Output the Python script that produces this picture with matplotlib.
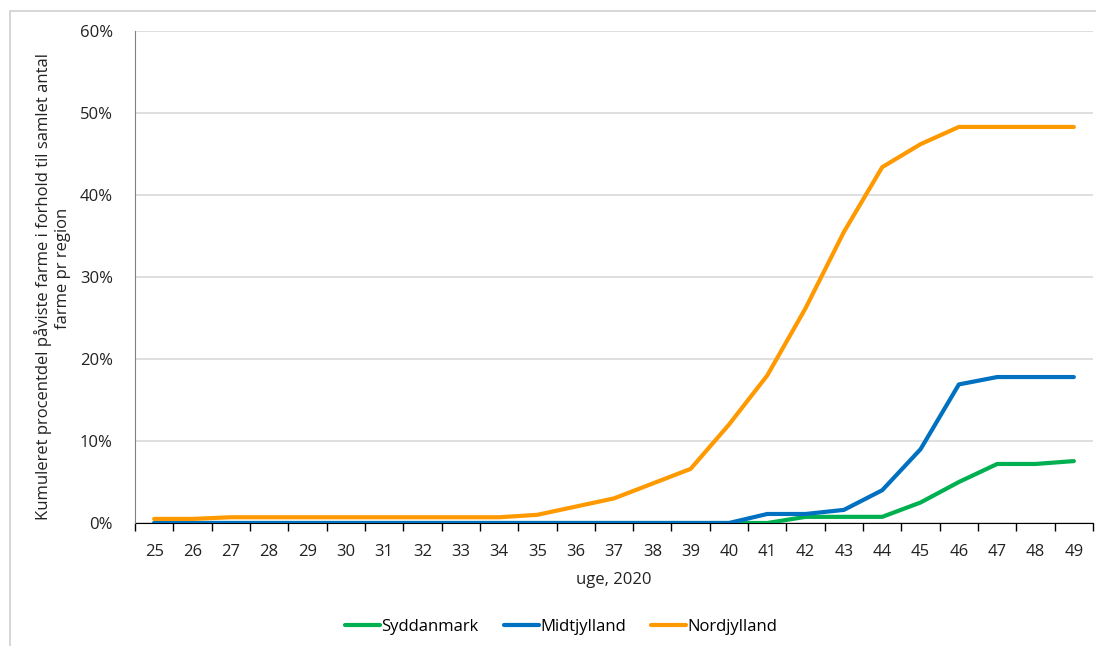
import matplotlib.pyplot as plt
from matplotlib.patches import Rectangle
from matplotlib.ticker import FuncFormatter, MultipleLocator

plt.rcParams['font.family'] = ['Open Sans', 'DejaVu Sans']

# Data (cumulative share of farms per region, %)
weeks = list(range(25, 50))
syddanmark = [0, 0, 0, 0, 0, 0, 0, 0, 0, 0, 0, 0, 0, 0, 0, 0, 0,
              0.75, 0.75, 0.75, 2.5, 5.0, 7.2, 7.2, 7.55]
midtjylland = [0, 0, 0, 0, 0, 0, 0, 0, 0, 0, 0, 0, 0, 0, 0, 0,
               1.1, 1.1, 1.6, 4.0, 9.0, 16.9, 17.8, 17.8, 17.8]
nordjylland = [0.5, 0.5, 0.7, 0.7, 0.7, 0.7, 0.7, 0.7, 0.7, 0.7, 1.0, 2.0, 3.0,
               4.8, 6.6, 12.0, 18.0, 26.2, 35.5, 43.4, 46.2, 48.3, 48.3, 48.3, 48.3]

series = [("Syddanmark", syddanmark, "#00B050"),
          ("Midtjylland", midtjylland, "#0070C0"),
          ("Nordjylland", nordjylland, "#FF9900")]

ylabel_lines = ["Kumuleret procentdel påviste farme i forhold til samlet antal",
                "farme pr region"]

fig = plt.figure(figsize=(10.96, 6.46), dpi=100)
ax = fig.add_axes([135 / 1096, 1 - 523 / 646, 958 / 1096, 492 / 646])

# light chart border like the spreadsheet frame
fig.patches.append(Rectangle((10 / 1096, -0.01), 1.0, 1 - 11 / 646 + 0.01,
                             transform=fig.transFigure, fill=False,
                             edgecolor="#D0D0D0", linewidth=1.2))

x = list(range(len(weeks)))
for name, vals, col in series:
    ax.plot(x, vals, color=col, linewidth=3, label=name, solid_capstyle="round")

ax.set_xlim(-0.5, len(weeks) - 0.5)
ax.set_ylim(0, 60)
ax.yaxis.set_major_locator(MultipleLocator(10))
ax.yaxis.set_major_formatter(FuncFormatter(lambda v, p: f"{v:.0f}%"))
ax.grid(axis="y", color="#D9D9D9", linewidth=1.2)
ax.set_axisbelow(True)

ax.set_xticks(x)
ax.set_xticklabels([str(w) for w in weeks])
ax.set_xticks([i - 0.5 for i in range(len(weeks) + 1)], minor=True)
ax.tick_params(axis="x", which="major", length=0, pad=15, labelsize=12, colors="#222222")
ax.tick_params(axis="x", which="minor", length=6, width=1, color="#000000", direction="out")
ax.tick_params(axis="y", length=0, pad=16, labelsize=12, colors="#222222")

for side in ["top", "right"]:
    ax.spines[side].set_visible(False)
ax.spines["left"].set_color("#808080")
ax.spines["bottom"].set_color("#000000")
ax.spines["bottom"].set_zorder(1)

ax.set_xlabel("uge, 2020", fontsize=12, color="#222222", labelpad=9)

# y label written as two lines, the second one sits a bit higher like in the original
fig.text(43 / 1096, 1 - 287 / 646, ylabel_lines[0], rotation=90, ha="center",
         va="center", fontsize=12, color="#222222")
fig.text(63 / 1096, 1 - 268 / 646, ylabel_lines[1], rotation=90, ha="center",
         va="center", fontsize=12, color="#222222")

fig.legend(loc="center", bbox_to_anchor=(0.512, 1 - 627 / 646), ncol=3, frameon=False,
           fontsize=12, handlelength=2.1, handletextpad=0.1, columnspacing=1.5)

plt.savefig("out.png", dpi=100)
